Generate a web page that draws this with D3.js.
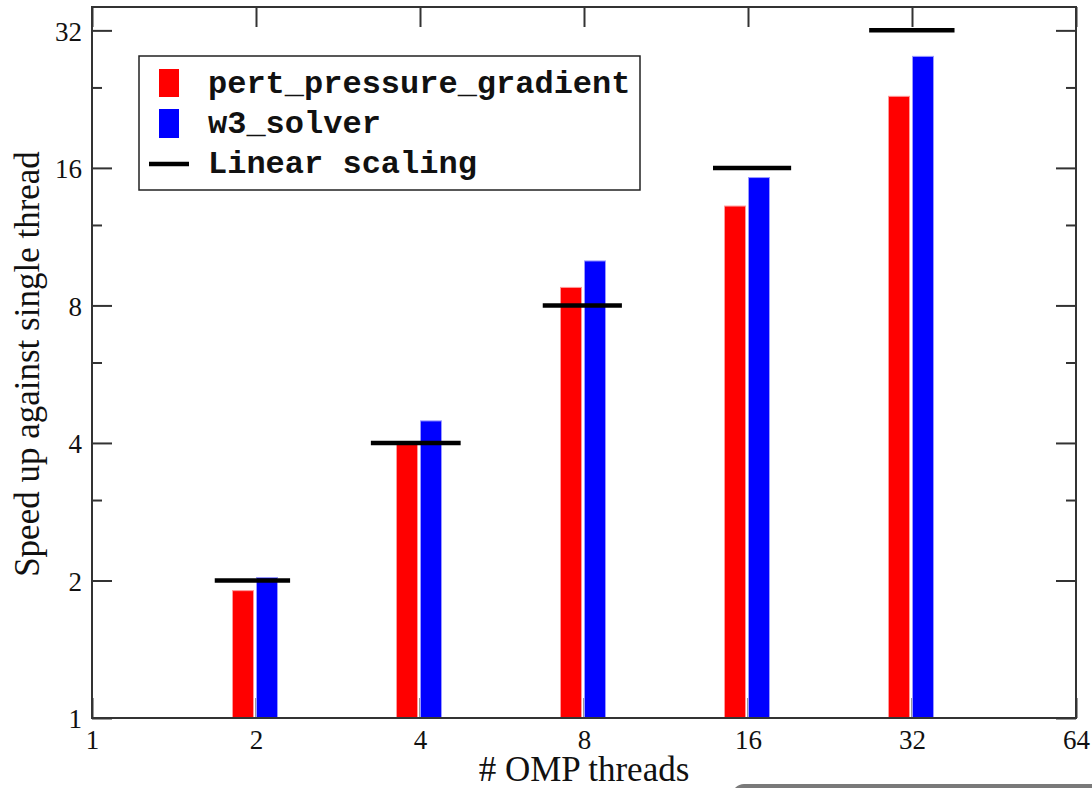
<!DOCTYPE html>
<html><head><meta charset="utf-8">
<script src="https://cdn.jsdelivr.net/npm/d3@7"></script>
<style>body{margin:0;background:#fff}svg{display:block}</style>
</head><body>
<script>
const threads = [2, 4, 8, 16, 32];
const pertPressureGradient = [1.90, 3.98, 8.76, 13.2, 22.95];
const w3Solver = [2.03, 4.47, 10.01, 15.24, 28.07];
const linearScaling = [2, 4, 8, 16, 32];
const linearFrom = [1.68, 3.25, 6.72, 13.8, 26.7];
const linearTo = [2.31, 4.75, 9.39, 19.2, 38.3];
const xTicks = [1, 2, 4, 8, 16, 32, 64];
const yTicks = [1, 2, 4, 8, 16, 32];
const yMinorTicks = [3, 6, 12, 24];
const legendLabels = ["pert_pressure_gradient", "w3_solver", "Linear scaling"];

const W = 1092, H = 788;
const L = 92, R = 1076, T = 7, B = 718;
const serif = "'Liberation Serif', 'Times New Roman', serif";
const svg = d3.select("body").append("svg").attr("width", W).attr("height", H);

const x = d3.scaleLog().base(2).domain([1, 64]).range([L, R]);
const y = d3.scaleLog().base(2).domain([1, 36]).range([B, T]);

const tickColor = "#333";
function styleAxis(g) {
  g.select(".domain").remove();
  g.selectAll("line").attr("stroke", tickColor).attr("stroke-width", 2);
}
// bottom axis (inward ticks)
const gx = svg.append("g").attr("transform", `translate(0,${B})`)
  .call(d3.axisBottom(x).tickValues(xTicks).tickFormat(d3.format("d")).tickSize(-20).tickPadding(12));
styleAxis(gx);
gx.selectAll("text").attr("font-family", serif).attr("font-size", 27).attr("fill", "#111");
// top axis ticks
const gxt = svg.append("g").attr("transform", `translate(0,${T})`)
  .call(d3.axisTop(x).tickValues(xTicks).tickFormat("").tickSize(-20));
styleAxis(gxt);
// left axis
const gy = svg.append("g").attr("transform", `translate(${L},0)`)
  .call(d3.axisLeft(y).tickValues(yTicks).tickFormat(d3.format("d")).tickSize(-20).tickPadding(10));
styleAxis(gy);
gy.selectAll("text").attr("font-family", serif).attr("font-size", 27).attr("fill", "#111").attr("dy", "0.36em");
const gym = svg.append("g").attr("transform", `translate(${L},0)`)
  .call(d3.axisLeft(y).tickValues(yMinorTicks).tickFormat("").tickSize(-10));
styleAxis(gym);
// right axis
const gyr = svg.append("g").attr("transform", `translate(${R},0)`)
  .call(d3.axisRight(y).tickValues(yTicks).tickFormat("").tickSize(-20));
styleAxis(gyr);
const gyrm = svg.append("g").attr("transform", `translate(${R},0)`)
  .call(d3.axisRight(y).tickValues(yMinorTicks).tickFormat("").tickSize(-10));
styleAxis(gyrm);

// bars
svg.append("g").selectAll("rect").data(threads).join("rect")
  .attr("x", d => x(d) - 23.5).attr("width", 21)
  .attr("y", (d, i) => y(pertPressureGradient[i]))
  .attr("height", (d, i) => B - y(pertPressureGradient[i]))
  .attr("fill", "#ff0000").attr("stroke", "#ff9a9a").attr("stroke-width", 1);
svg.append("g").selectAll("rect").data(threads).join("rect")
  .attr("x", d => x(d) + 0.5).attr("width", 21)
  .attr("y", (d, i) => y(w3Solver[i]))
  .attr("height", (d, i) => B - y(w3Solver[i]))
  .attr("fill", "#0000ff").attr("stroke", "#9a9aff").attr("stroke-width", 1);

// linear scaling segments
svg.append("g").selectAll("line").data(linearScaling).join("line")
  .attr("x1", (d, i) => x(linearFrom[i])).attr("x2", (d, i) => x(linearTo[i]))
  .attr("y1", d => y(d)).attr("y2", d => y(d))
  .attr("stroke", "#000").attr("stroke-width", 4.5);

// frame
svg.append("rect").attr("x", L).attr("y", T).attr("width", R - L).attr("height", B - T)
  .attr("fill", "none").attr("stroke", "#333").attr("stroke-width", 2);

// axis titles
svg.append("text").attr("x", 584).attr("y", 781).attr("text-anchor", "middle")
  .attr("font-family", serif).attr("font-size", 35).attr("fill", "#111")
  .text("# OMP threads");
svg.append("text").attr("transform", "translate(39,364) rotate(-90)").attr("text-anchor", "middle")
  .attr("font-family", serif).attr("font-size", 35).attr("fill", "#111")
  .text("Speed up against single thread");

// legend
const lg = svg.append("g");
lg.append("rect").attr("x", 139).attr("y", 56).attr("width", 501).attr("height", 134)
  .attr("fill", "#fff").attr("stroke", "#222").attr("stroke-width", 1.5);
lg.append("rect").attr("x", 159).attr("y", 69).attr("width", 20).attr("height", 28).attr("fill", "#ff0000");
lg.append("rect").attr("x", 159).attr("y", 109).attr("width", 20).attr("height", 29).attr("fill", "#0000ff");
lg.append("line").attr("x1", 149).attr("x2", 189).attr("y1", 164).attr("y2", 164).attr("stroke", "#000").attr("stroke-width", 4.5);
lg.selectAll("text.lab").data(legendLabels).join("text").attr("class", "lab")
  .attr("x", 208).attr("y", (d, i) => 93 + i * 40)
  .attr("font-family", "'Liberation Mono', 'Courier New', monospace").attr("font-weight", "bold")
  .attr("font-size", 32).attr("fill", "#111").text(d => d);

// screenshot artifact bar at bottom
svg.append("rect").attr("x", 732).attr("y", 784).attr("width", 420).attr("height", 24).attr("rx", 12).attr("fill", "#7a7a7a");
</script>
</body></html>
